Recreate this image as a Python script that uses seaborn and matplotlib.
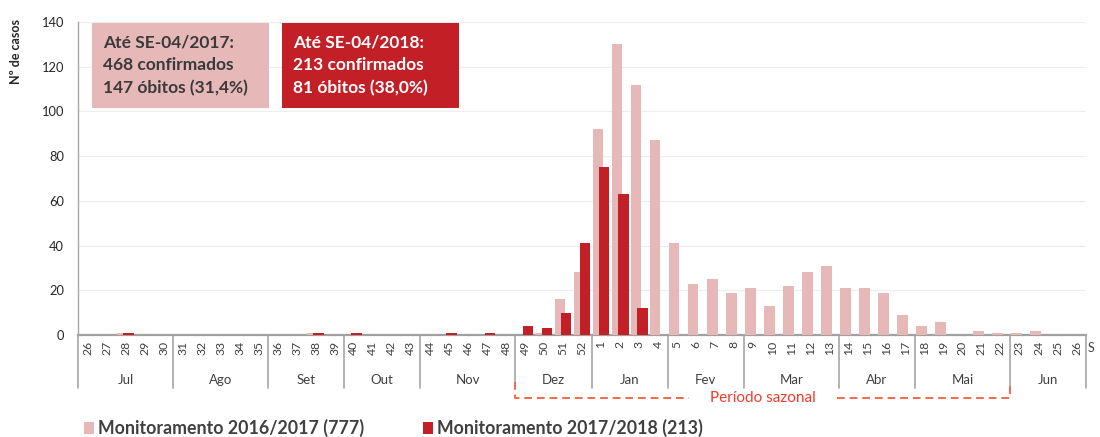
import numpy as np
import pandas as pd
import matplotlib.pyplot as plt
import matplotlib.transforms as mtransforms
from matplotlib.patches import Rectangle, Patch
import seaborn as sns

sns.set_theme(style='white')
plt.rcParams['font.family'] = ['Lato', 'DejaVu Sans']

# epidemiological weeks shown on the x axis (SE 26 to SE 26 of next year)
weeks = ['26', '27', '28', '29', '30', '31', '32', '33', '34', '35',
         '36', '37', '38', '39', '40', '41', '42', '43', '44', '45',
         '46', '47', '48', '49', '50', '51', '52',
         '1', '2', '3', '4', '5', '6', '7', '8', '9', '10', '11', '12', '13',
         '14', '15', '16', '17', '18', '19', '20', '21', '22', '23', '24',
         '25', '26']

# cases per week, season 2016/2017 (777 total)
casos_1617 = [0, 0, 1, 0, 0, 0, 0, 0, 0, 0,
              0, 0, 1, 0, 0, 0, 0, 0, 0, 0,
              0, 0, 0, 0, 1, 16, 28,
              92, 130, 112, 87, 41, 23, 25, 19, 21, 13, 22, 28, 31,
              21, 21, 19, 9, 4, 6, 0, 2, 1, 1, 2,
              0, 0]

# cases per week, season 2017/2018 (213 up to SE-04)
casos_1718 = [0, 0, 1, 0, 0, 0, 0, 0, 0, 0,
              0, 0, 1, 0, 1, 0, 0, 0, 0, 1,
              0, 1, 0, 4, 3, 10, 41,
              75, 63, 12, 0, 0, 0, 0, 0, 0, 0, 0, 0, 0,
              0, 0, 0, 0, 0, 0, 0, 0, 0, 0, 0,
              0, 0]

months = ['Jul', 'Ago', 'Set', 'Out', 'Nov', 'Dez',
          'Jan', 'Fev', 'Mar', 'Abr', 'Mai', 'Jun']
month_weeks = [5, 5, 4, 4, 5, 4, 4, 4, 5, 4, 5, 4]

label_1617 = 'Monitoramento 2016/2017 (777)'
label_1718 = 'Monitoramento 2017/2018 (213)'
box_1617 = ['Até SE-04/2017:', '468 confirmados', '147 óbitos (31,4%)']
box_1718 = ['Até SE-04/2018:', '213 confirmados', '81 óbitos (38,0%)']

PINK = '#E6B8B8'
RED = '#C21F27'
DASH = '#F26A4B'
TXT = '#404040'

df = pd.DataFrame({'pos': np.arange(len(weeks)),
                   'c1617': casos_1617, 'c1718': casos_1718})

fig = plt.figure(figsize=(11, 4.37), dpi=100)
ax = fig.add_axes([78 / 1100, 102 / 437, 1008 / 1100, 313 / 437])

sns.barplot(x=df['pos'] - 0.16, y=df['c1617'], native_scale=True, width=0.57,
            color=PINK, saturation=1, errorbar=None, linewidth=0, ax=ax)
sns.barplot(x=df['pos'] + 0.16, y=df['c1718'], native_scale=True, width=0.57,
            color=RED, saturation=1, errorbar=None, linewidth=0, ax=ax)

ax.set_xlim(-0.5, len(weeks) - 0.5)
ax.set_ylim(0, 140)
ax.set_yticks(range(0, 141, 20))
ax.set_xticks(df['pos'])
ax.set_xticklabels(weeks, rotation=90, fontsize=8.8, color=TXT)
ax.tick_params(axis='x', length=0, pad=4)
ax.tick_params(axis='y', length=4, color='#A6A6A6', width=1, labelsize=9.3,
               labelcolor='#262626', pad=6)
ax.set_xlabel('')
ax.set_ylabel('')
ax.yaxis.grid(True, color='#EDEDED', linewidth=0.8)
ax.set_axisbelow(True)
for s in ['top', 'right']:
    ax.spines[s].set_visible(False)
ax.spines['left'].set_color('#A6A6A6')
ax.spines['left'].set_linewidth(1)
ax.spines['bottom'].set_color('#A0A0A0')
ax.spines['bottom'].set_linewidth(1.6)
ax.spines['bottom'].set_zorder(0.6)  # let the tiny bars sit over the baseline

# month separators and names under the week numbers
trans = mtransforms.blended_transform_factory(ax.transData, ax.transAxes)
edges = np.concatenate([[0], np.cumsum(month_weeks)]) - 0.5
for xe in edges:
    ax.plot([xe, xe], [0, -0.169], transform=trans, color='#A6A6A6',
            linewidth=1.2, clip_on=False)
for name, a, b in zip(months, edges[:-1], edges[1:]):
    ax.text((a + b) / 2, -0.144, name, transform=trans, ha='center',
            va='center', fontsize=9.5, color=TXT)

# seasonal period bracket (SE 49 to SE 22)
x0, x1 = edges[5], edges[11]
dash_kw = dict(transform=trans, color=DASH, linewidth=1.4,
               linestyle=(0, (4, 2.5)), clip_on=False)
ax.plot([x0, x0, 31.6], [-0.150, -0.201, -0.201], **dash_kw)
ax.plot([39.4, x1, x1], [-0.201, -0.201, -0.150], **dash_kw)
ax.text(35.5, -0.201, 'Período sazonal', transform=trans, ha='center',
        va='center', fontsize=11, color='#F03B2C')

# axis title at the right edge (only its first letter fits in the frame)
fig.text(1088 / 1100, 1 - 348 / 437, 'S', fontsize=9, color=TXT,
         ha='left', va='center')

fig.text(16 / 1100, 1 - 51 / 437, 'Nº de casos', rotation=90, fontsize=9,
         fontweight='bold', color='#262626', ha='center', va='center')

# summary boxes
for left, lines, fc, tc in [(92, box_1617, PINK, '#3A3A3A'),
                            (282, box_1718, RED, 'white')]:
    fig.patches.append(Rectangle((left / 1100, 1 - 108 / 437), 177 / 1100,
                                 85 / 437, transform=fig.transFigure,
                                 facecolor=fc, edgecolor='none'))
    for i, line in enumerate(lines):
        fig.text((left + 11) / 1100, 1 - (42 + 23 * i) / 437, line,
                 fontsize=12.5, fontweight='bold', color=tc,
                 ha='left', va='center')

handles = [Patch(facecolor=PINK, edgecolor='none'),
           Patch(facecolor=RED, edgecolor='none')]
fig.legend(handles, [label_1617, label_1718], loc='center left',
           bbox_to_anchor=(84 / 1100, 1 - 428 / 437), ncol=2, frameon=False,
           handlelength=0.55, handleheight=0.7, handletextpad=0.25,
           columnspacing=3.3, borderpad=0, borderaxespad=0,
           prop={'size': 12.8, 'weight': 'bold'}, labelcolor=TXT)

fig.savefig('out.png', dpi=100)
